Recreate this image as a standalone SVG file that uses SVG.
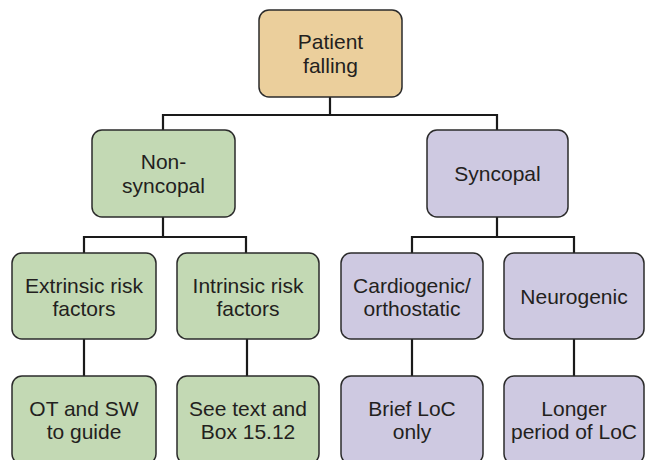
<svg xmlns="http://www.w3.org/2000/svg" width="645" height="460" viewBox="0 0 645 460">
<style>
.box{stroke:#2b2b2b;stroke-width:1.5}
.tan{fill:#EBCF9C}
.grn{fill:#C3D9B4}
.pur{fill:#CEC9E1}
text{font-family:"Liberation Sans",Arial,sans-serif;font-size:21px;fill:#231f20;text-anchor:middle}
.conn{fill:none;stroke:#1a1a1a;stroke-width:2.2}
</style>
<rect width="645" height="460" fill="#fff"/>
<g id="connectors">
<path class="conn" d="M330,97 V115 M163,130 V115 H497 V130"/>
<path class="conn" d="M163,217 V237 M84,253 V237 H246 V253"/>
<path class="conn" d="M497,217 V237 M412,253 V237 H574 V253"/>
<path class="conn" d="M84,339 V376 M247,339 V376 M412,339 V376 M574,339 V376"/>
</g>
<g id="patient-falling">
<rect class="box tan" x="259" y="10" width="143" height="87" rx="10"/>
<text x="330.5" y="49">Patient</text>
<text x="330.5" y="73">falling</text>
</g>
<g id="non-syncopal">
<rect class="box grn" x="92" y="130" width="143" height="87" rx="10"/>
<text x="163.5" y="169">Non-</text>
<text x="163.5" y="193">syncopal</text>
</g>
<g id="syncopal">
<rect class="box pur" x="427" y="130" width="141" height="87" rx="10"/>
<text x="497.5" y="181">Syncopal</text>
</g>
<g id="extrinsic">
<rect class="box grn" x="12" y="253" width="144" height="86" rx="10"/>
<text x="84" y="293">Extrinsic risk</text>
<text x="84" y="316">factors</text>
</g>
<g id="intrinsic">
<rect class="box grn" x="177" y="253" width="142" height="86" rx="10"/>
<text x="248" y="293">Intrinsic risk</text>
<text x="248" y="316">factors</text>
</g>
<g id="cardiogenic">
<rect class="box pur" x="341" y="253" width="142" height="86" rx="10"/>
<text x="412" y="293">Cardiogenic/</text>
<text x="412" y="316">orthostatic</text>
</g>
<g id="neurogenic">
<rect class="box pur" x="504" y="253" width="140" height="86" rx="10"/>
<text x="574" y="304">Neurogenic</text>
</g>
<g id="ot-sw">
<rect class="box grn" x="12" y="376" width="144" height="88" rx="10"/>
<text x="84" y="416">OT and SW</text>
<text x="84" y="439">to guide</text>
</g>
<g id="see-text">
<rect class="box grn" x="177" y="376" width="142" height="88" rx="10"/>
<text x="248" y="416">See text and</text>
<text x="248" y="439">Box 15.12</text>
</g>
<g id="brief-loc">
<rect class="box pur" x="341" y="376" width="142" height="88" rx="10"/>
<text x="412" y="416">Brief LoC</text>
<text x="412" y="439">only</text>
</g>
<g id="longer-loc">
<rect class="box pur" x="504" y="376" width="140" height="88" rx="10"/>
<text x="574" y="416">Longer</text>
<text x="574" y="439">period of LoC</text>
</g>
</svg>
